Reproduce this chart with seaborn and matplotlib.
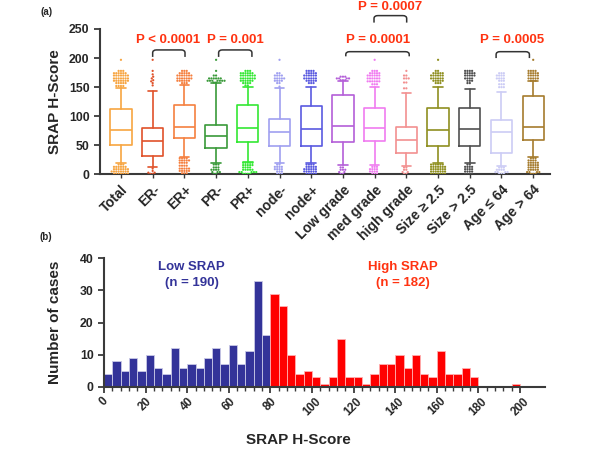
import numpy as np
import pandas as pd
import matplotlib
matplotlib.use("Agg")
import matplotlib.pyplot as plt
import seaborn as sns
from matplotlib.path import Path
from matplotlib.patches import PathPatch

# ---------------- data: panel (a) ----------------
cats = ['Total', 'ER-', 'ER+', 'PR-', 'PR+', 'node-', 'node+', 'Low grade',
        'med grade', 'high grade', 'Size ≥ 2.5', 'Size > 2.5', 'Age ≤ 64', 'Age > 64']
box_colors = ['#F7A541', '#E0522A', '#F58040', '#3A9A3A', '#33E833', '#A0A0F0',
              '#5A5AE0', '#B45FD8', '#F07CF0', '#F29090', '#8F8F20', '#505050',
              '#CCCCF5', '#A67C2E']
q1 = [50, 31, 62, 46, 56, 49, 49, 56, 58, 36, 49, 49, 36, 60]
med = [76, 57, 81, 66, 80, 73, 78, 84, 79, 60, 76, 78, 73, 81]
q3 = [113, 79, 120, 85, 120, 96, 118, 137, 114, 81, 114, 114, 93, 134]
whis_lo = [19, 12, 30, 19, 21, 20, 19, 16, 16, 14, 19, 20, 15, 30]
whis_hi = [148, 143, 154, 157, 150, 148, 151, 160, 150, 140, 151, 146, 142, 160]

out_total = [197] + [178]*3 + [174]*6 + [170]*7 + [165]*7 + [161]*7 + [157]*5 + [152]*4 + \
            [17]*3 + [13]*6 + [9]*7 + [5]*8 + [1]*7
out_er_neg = [197, 178, 172, 168, 165, 162, 160, 157, 153] + [10, 6, 3, 3, 1, 1]
out_er_pos = [178]*3 + [174]*5 + [170]*7 + [165]*7 + [161]*6 + [157]*3 + \
             [28]*4 + [24]*5 + [20]*4 + [15]*4 + [10]*5 + [6]*5 + [2]*3
out_pr_neg = [197, 178] + [170]*2 + [165]*6 + [161]*7 + [158]*2 + \
             [17]*3 + [12]*3 + [8]*4 + [4]*3 + [1]*2
out_pr_pos = [178]*3 + [174]*6 + [170]*7 + [165]*7 + [161]*6 + [157]*4 + [153]*2 + \
             [20]*5 + [16]*5 + [12]*4 + [8]*5 + [4]*5 + [1]*4
out_node_neg = [197] + [174]*2 + [170]*4 + [165]*5 + [161]*4 + [157]*2 + [151] + \
               [17]*2 + [13]*4 + [9]*4 + [5]*3 + [1]*3
out_node_pos = [178]*4 + [174]*5 + [170]*6 + [165]*6 + [161]*5 + [157]*3 + \
               [17]*4 + [13]*5 + [9]*6 + [5]*6 + [1]*5
out_low_grade = [168]*3 + [165]*4 + [162]*3 + [12]*2 + [8]*3 + [4]*2 + [1]*2
out_med_grade = [197] + [178]*3 + [174]*5 + [170]*6 + [165]*6 + [160]*6 + [155]*3 + \
                [13]*3 + [9]*4 + [5]*4 + [1]*3
out_high_grade = [178] + [170]*2 + [165]*3 + [158]*2 + [148]*2 + [12]*2 + [8]*2 + [4]*2 + [1]*2
out_size_ge = [197] + [178]*2 + [174]*5 + [170]*6 + [165]*6 + [161]*5 + [157]*3 + \
              [17]*6 + [13]*7 + [9]*7 + [5]*7 + [1]*7
out_size_gt = [178]*4 + [174]*5 + [170]*5 + [165]*4 + [161]*3 + [157]*2 + \
              [17]*2 + [13]*4 + [9]*4 + [5]*4 + [1]*4
out_age_le = [174]*3 + [170]*4 + [165]*4 + [161]*3 + [155]*3 + [150]*3 + \
             [12]*3 + [8]*4 + [4]*4 + [1]*3
out_age_gt = [197] + [178]*4 + [174]*5 + [170]*5 + [165]*5 + [161]*3 + \
             [28]*3 + [24]*4 + [20]*5 + [16]*5 + [12]*5 + [8]*5 + [4]*4 + [1]*3
outliers = [out_total, out_er_neg, out_er_pos, out_pr_neg, out_pr_pos, out_node_neg,
            out_node_pos, out_low_grade, out_med_grade, out_high_grade, out_size_ge,
            out_size_gt, out_age_le, out_age_gt]

# ---------------- data: panel (b) ----------------
bin_width = 4
low_bin_starts = np.arange(0, 80, bin_width)
low_counts = [4, 8, 5, 9, 5, 10, 6, 4, 12, 6, 7, 6, 9, 12, 7, 13, 7, 11, 33, 16]
high_bin_starts = np.arange(80, 200, bin_width)
high_counts = [29, 25, 10, 4, 5, 3, 1, 3, 15, 3, 3, 1, 4, 7, 7, 10, 6, 10, 4, 3,
               11, 4, 4, 6, 3, 0, 0, 0, 0, 1]
hist_xticks = list(range(0, 201, 20))

# ---------------- style ----------------
sns.set_theme(style='ticks')
plt.rcParams['font.family'] = ['Liberation Sans', 'DejaVu Sans']
plt.rcParams['font.weight'] = 'bold'
plt.rcParams['axes.labelweight'] = 'bold'
spine_col = '#3a3a3a'

fig = plt.figure(figsize=(6, 4.53), dpi=100)
ax1 = fig.add_axes([0.1667, 0.615, 0.75, 0.321])
ax2 = fig.add_axes([0.1733, 0.146, 0.735, 0.284])

# ---------------- panel (a) ----------------
rows = []
for c, vals in zip(cats, outliers):
    for v in vals:
        rows.append((c, v))
df_out = pd.DataFrame(rows, columns=['group', 'score'])
sns.swarmplot(data=df_out, x='group', y='score', hue='group', order=cats,
              hue_order=cats, palette=box_colors, size=1.6, ax=ax1, legend=False,
              linewidth=0)

stats = []
for i in range(len(cats)):
    stats.append(dict(med=med[i], q1=q1[i], q3=q3[i], whislo=whis_lo[i],
                      whishi=whis_hi[i], fliers=[]))
art = ax1.bxp(stats, positions=list(range(len(cats))), widths=0.67,
              showfliers=False, capwidths=0.3)
for i, col in enumerate(box_colors):
    art['boxes'][i].set(color=col, linewidth=1.2)
    art['medians'][i].set(color=col, linewidth=1.2)
    for w in art['whiskers'][2*i:2*i+2]:
        w.set(color=col, linewidth=1.2)
    for cp in art['caps'][2*i:2*i+2]:
        cp.set(color=col, linewidth=1.2)

ax1.set_xlim(-0.66, 13.53)
ax1.set_ylim(0, 250)
ax1.set_yticks([0, 50, 100, 150, 200, 250])
ax1.set_xticks(range(len(cats)))
ax1.set_xticklabels(cats, rotation=45, ha='right', rotation_mode='anchor',
                    fontsize=10, fontweight='bold')
ax1.tick_params(axis='y', labelsize=8.8, length=4, width=1.3, color=spine_col)
ax1.tick_params(axis='x', length=3, width=1.0, color=spine_col, pad=3)
ax1.set_xlabel('')
ax1.set_ylabel('SRAP H-Score', fontsize=11, fontweight='bold')
ax1.yaxis.set_label_coords(-0.085, 0.5)
sns.despine(ax=ax1)
for s in ['left', 'bottom']:
    ax1.spines[s].set_linewidth(1.5)
    ax1.spines[s].set_color(spine_col)


def bracket(ax, x1, x2, ytop, ybot, rx=0.12, ry=5):
    verts = [(x1, ybot), (x1, ytop - ry), (x1, ytop), (x1 + rx, ytop),
             (x2 - rx, ytop), (x2, ytop), (x2, ytop - ry), (x2, ybot)]
    codes = [Path.MOVETO, Path.LINETO, Path.CURVE3, Path.CURVE3,
             Path.LINETO, Path.CURVE3, Path.CURVE3, Path.LINETO]
    ax.add_patch(PathPatch(Path(verts, codes), fill=False, edgecolor='#333333',
                           linewidth=1.1, clip_on=False))


pcol = '#FF3311'
bracket(ax1, 1.0, 2.02, 214, 202)
bracket(ax1, 3.08, 4.13, 214, 202)
bracket(ax1, 7.09, 9.09, 211, 203)
bracket(ax1, 7.98, 9.01, 273, 261)
bracket(ax1, 11.83, 12.88, 211, 200)
ptexts = [(1.48, 231, 'P < 0.0001'), (3.6, 231, 'P = 0.001'),
          (8.12, 231, 'P = 0.0001'), (8.49, 288, 'P = 0.0007'),
          (12.32, 231, 'P = 0.0005')]
for x, y, t in ptexts:
    ax1.text(x, y, t, color=pcol, ha='center', va='center', fontsize=9.5,
             fontweight='bold', clip_on=False)

# ---------------- panel (b) ----------------
df_low = pd.DataFrame({'score': low_bin_starts + bin_width / 2,
                       'n': np.asarray(low_counts, dtype=float)})
df_high = pd.DataFrame({'score': high_bin_starts + bin_width / 2,
                        'n': np.asarray(high_counts, dtype=float)})
sns.histplot(data=df_low, x='score', weights='n', binwidth=bin_width,
             binrange=(0, 80), color='#333399',
             alpha=1, edgecolor='#c8c8e6', linewidth=0.6, ax=ax2)
sns.histplot(data=df_high, x='score', weights='n', binwidth=bin_width,
             binrange=(80, 200), color='#FF0000',
             alpha=1, edgecolor='#ffb0b0', linewidth=0.6, ax=ax2)
ax2.set_xlim(0, 212)
ax2.set_ylim(0, 40)
ax2.set_yticks([0, 10, 20, 30, 40])
ax2.set_xticks(hist_xticks)
ax2.set_xticks(np.arange(0, 201, bin_width), minor=True)
ax2.set_xticklabels([str(v) for v in hist_xticks], rotation=45, ha='center',
                    fontsize=8.5, fontweight='bold')
ax2.tick_params(axis='y', labelsize=8.8, length=4, width=1.3, color=spine_col)
ax2.tick_params(axis='x', which='major', length=4, width=1.3, color=spine_col, pad=2)
ax2.tick_params(axis='x', which='minor', length=3, width=1.0, color=spine_col)
ax2.set_ylabel('Number of cases', fontsize=11, fontweight='bold')
ax2.yaxis.set_label_coords(-0.095, 0.5)
ax2.set_xlabel('SRAP H-Score', fontsize=11, fontweight='bold')
ax2.xaxis.set_label_coords(0.44, -0.36)
sns.despine(ax=ax2)
for s in ['left', 'bottom']:
    ax2.spines[s].set_linewidth(1.5)
    ax2.spines[s].set_color(spine_col)

fig.text(0.3195, 0.393, 'Low SRAP\n(n = 190)', color='#333399', ha='center',
         va='center', fontsize=9.5, fontweight='bold', linespacing=1.5)
fig.text(0.672, 0.393, 'High SRAP\n(n = 182)', color='#FF3311', ha='center',
         va='center', fontsize=9.5, fontweight='bold', linespacing=1.5)
fig.text(0.077, 0.973, '(a)', fontsize=7, fontweight='bold', ha='center', va='center')
fig.text(0.077, 0.477, '(b)', fontsize=7, fontweight='bold', ha='center', va='center')

fig.savefig('out.png', dpi=100)
